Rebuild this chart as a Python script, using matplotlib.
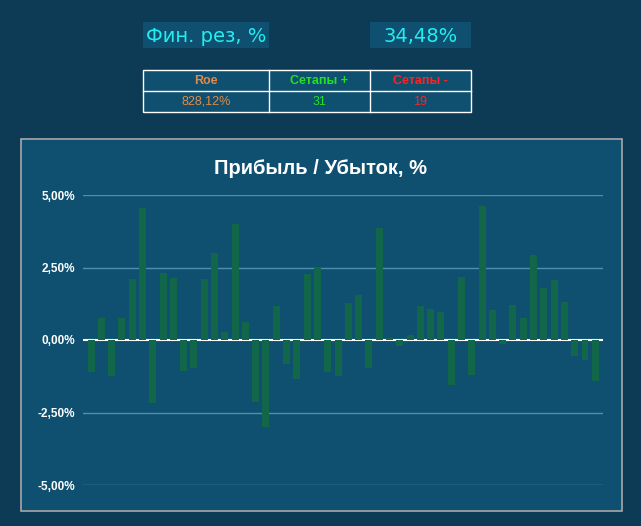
import matplotlib
matplotlib.use("Agg")
import matplotlib.pyplot as plt
from matplotlib.patches import Rectangle
from matplotlib.ticker import FuncFormatter
import numpy as np

# ---- data ----
profit = [-1.11, 0.75, -1.25, 0.75, 2.09, 4.54, -2.18, 2.30, 2.14, -1.07,
          -0.98, 2.09, 2.99, 0.26, 3.99, 0.61, -2.15, -3.00, 1.16, -0.84,
          -1.36, 2.26, 2.47, -1.09, -1.23, 1.26, 1.54, -0.95, 3.85, 0.06,
          -0.22, 0.16, 1.16, 1.06, 0.95, -1.54, 2.16, -1.20, 4.61, 1.02,
          -0.15, 1.20, 0.75, 2.92, 1.78, 2.06, 1.30, -0.56, -0.70, -1.40]
yticks = [-5, -2.5, 0, 2.5, 5]
fin_label = "Фин. рез, %"
fin_value = "34,48%"
table_headers = ["Roe", "Сетапы +", "Сетапы -"]
table_values = ["828,12%", "31", "19"]
table_colors = ["#e08a48", "#22e022", "#ff2222"]
title = "Прибыль / Убыток, %"

W, H = 641, 526
BG = "#0d3a55"
PANEL = "#0f5070"
BAR = "#126649"

fig = plt.figure(figsize=(W / 100, H / 100), dpi=100, facecolor=BG)

def fx(x):
    return x / W

def fy(y):
    return (H - y) / H

def rect_px(x0, y0, x1, y1, **kw):
    r = Rectangle((fx(x0), fy(y1)), fx(x1) - fx(x0), fy(y0) - fy(y1),
                  transform=fig.transFigure, **kw)
    fig.patches.append(r)
    return r

# top boxes
rect_px(143, 22, 269, 48, facecolor=PANEL, edgecolor="none")
rect_px(370, 22, 471, 48, facecolor=PANEL, edgecolor="none")
fig.text(fx(206), fy(36), fin_label, color="#22eef2", fontsize=14,
         family="DejaVu Sans", ha="center", va="center")
fig.text(fx(420.5), fy(36), fin_value, color="#22eef2", fontsize=14,
         family="DejaVu Sans", ha="center", va="center")

# table
cols = [143, 269, 370, 471]
rect_px(143, 70, 471, 112, facecolor=PANEL, edgecolor="white", linewidth=1.0)
for c in cols[1:-1]:
    fig.add_artist(plt.Line2D([fx(c), fx(c)], [fy(70), fy(112)],
                              transform=fig.transFigure, color="white", lw=1.0))
fig.add_artist(plt.Line2D([fx(143), fx(471)], [fy(91), fy(91)],
                          transform=fig.transFigure, color="white", lw=1.0))
for i in range(3):
    cx = (cols[i] + cols[i + 1]) / 2
    fig.text(fx(cx), fy(81), table_headers[i], color=table_colors[i],
             fontsize=9, fontweight="bold", family="Liberation Sans",
             ha="center", va="center")
    fig.text(fx(cx), fy(102), table_values[i], color=table_colors[i],
             fontsize=9, family="Liberation Sans", ha="center", va="center")

# chart panel
rect_px(20.5, 138.5, 621.5, 510.5, facecolor=PANEL, edgecolor="#a8a8a8", linewidth=1.2)
fig.text(fx(321), fy(168), title, color="white", fontsize=14.5, fontweight="bold",
         family="Liberation Sans", ha="center", va="center")

ax = fig.add_axes([fx(83.3), fy(485), fx(602.7) - fx(83.3), fy(195) - fy(485)])
ax.set_zorder(5)
ax.set_facecolor("none")
x = np.arange(len(profit))
ax.bar(x, profit, width=0.68, color=BAR, zorder=3)
ax.axhline(0, color="white", lw=1.5, zorder=2)
for t in yticks:
    if t != 0:
        ax.axhline(t, color="#4f8fae", lw=1.0, zorder=1)
ax.set_xlim(-0.75, len(profit) - 0.28)
ax.set_ylim(-5, 5)
ax.set_yticks(yticks)
ax.yaxis.set_major_formatter(FuncFormatter(lambda v, p: f"{v:.2f}%".replace(".", ",")))
ax.set_xticks([])
ax.tick_params(axis="y", length=0, pad=6, labelcolor="white", labelsize=8.5)
for lab in ax.get_yticklabels():
    lab.set_fontweight("bold")
    lab.set_family("Liberation Sans")
for s in ax.spines.values():
    s.set_visible(False)

fig.savefig("out.png", dpi=100, facecolor=BG)
